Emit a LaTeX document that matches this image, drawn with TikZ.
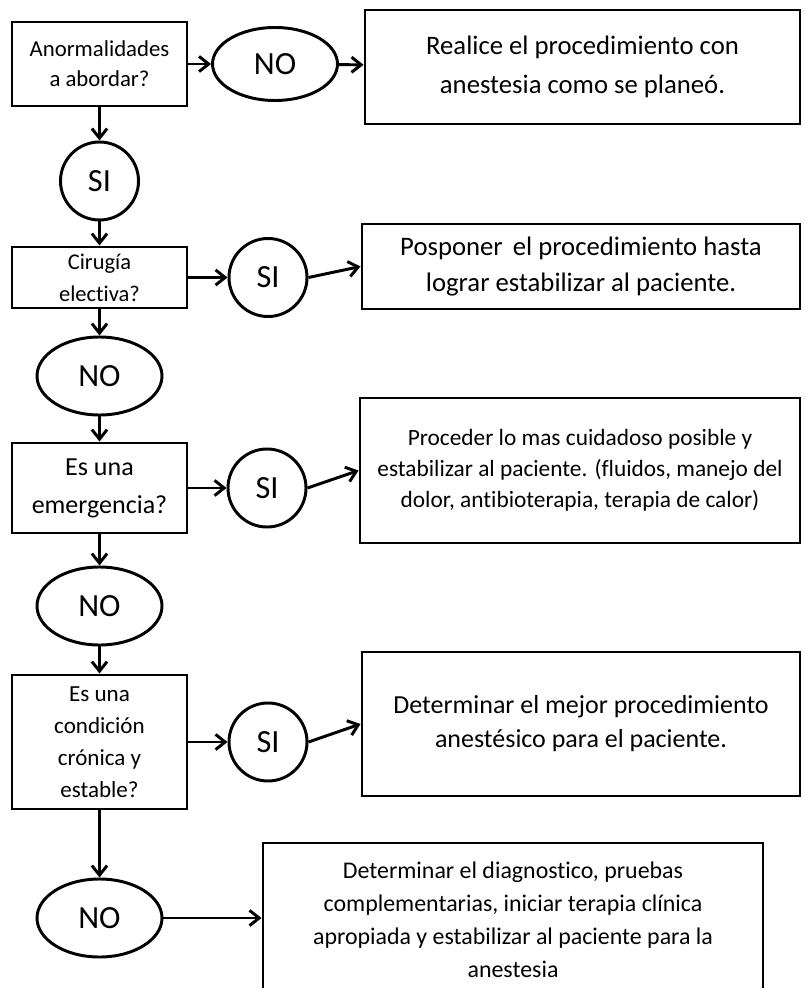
\documentclass[tikz,border=0pt]{standalone}
\usepackage{fontspec}
\setmainfont{Carlito}[Ligatures = NoCommon]
\usetikzlibrary{shapes.geometric,arrows.meta}

\tikzset{
    caja/.style = {draw, rectangle, line width = 2.1pt, inner sep = 0pt, align = center},
    globo/.style = {draw, ellipse, line width = 2.1pt, inner sep = 0pt, minimum width = 31.25mm, minimum height = 19.5mm, font = \fontsize{23}{27}\selectfont},
    bola/.style = {draw, circle, line width = 2.1pt, inner sep = 0pt, minimum size = 19.5mm, font = \fontsize{23}{27}\selectfont},
    flecha/.style = {line width = 2.1pt, -{Straight Barb[length = 2.4mm, width = 3.8mm]}}
}

\begin{document}
\begin{tikzpicture}[x = 0.25mm, y = -0.25mm]
        \useasboundingbox (0,0) rectangle (804,988);

        % columna de preguntas
        \node (anorm) at (99.5, 64) [caja, minimum width = 43.75mm, minimum height = 21mm, font = \fontsize{16.2}{21.3}\selectfont] {Anormalidades\\a abordar?};
        \node (cirugia) at (99.5, 277.5) [caja, minimum width = 43.75mm, minimum height = 15.25mm, font = \fontsize{16}{22.8}\selectfont] {Cirugía\\electiva?};
        \node (emerg) at (99.5, 488) [caja, minimum width = 43.75mm, minimum height = 22.5mm, font = \fontsize{18.5}{27}\selectfont] {Es una\\emergencia?};
        \node (cronica) at (99.5, 742) [caja, minimum width = 43.75mm, minimum height = 33.5mm, font = \fontsize{16.4}{22.8}\selectfont] {Es una\\condición\\crónica y\\estable?};

        % respuestas
        \node (no1) at (275, 64) [globo, minimum height = 18.25mm] {NO};
        \node (si1) at (99.5, 181) [bola] {SI};
        \node (si2) at (268, 277.5) [bola] {SI};
        \node (no2) at (99.5, 376) [globo] {NO};
        \node (si3) at (267, 488) [bola] {SI};
        \node (no3) at (99.5, 606) [globo] {NO};
        \node (si4) at (268, 742) [bola] {SI};
        \node (no4) at (99.5, 918) [globo] {NO};

        % acciones
        \node (r1) at (582.5, 67) [caja, minimum width = 108.75mm, minimum height = 28.5mm, font = \fontsize{19}{27.7}\selectfont] {Realice el procedimiento con\\anestesia como se planeó.};
        \node (r2) at (581, 266.5) [caja, minimum width = 109.5mm, minimum height = 21.25mm, font = \fontsize{19}{25.6}\selectfont] {Posponer\hspace{0.15em} el procedimiento hasta\\lograr estabilizar al paciente.};
        \node (r3) at (580, 470.5) [caja, minimum width = 110mm, minimum height = 36.25mm, font = \fontsize{16.6}{22}\selectfont] {Proceder lo mas cuidadoso posible y\\estabilizar al paciente. (fluidos, manejo del\\dolor, antibioterapia, terapia de calor)};
        \node (r4) at (581, 724) [caja, minimum width = 109.5mm, minimum height = 36mm, font = \fontsize{18.5}{24.2}\selectfont] {Determinar el mejor procedimiento\\anestésico para el paciente.};
        \node (r5) at (513, 920) [caja, minimum width = 125mm, minimum height = 38.5mm, font = \fontsize{17}{23.5}\selectfont] {Determinar el diagnostico, pruebas\\complementarias, iniciar terapia clínica\\apropiada y estabilizar al paciente para la\\anestesia};

        \draw [flecha] (anorm) -- (no1);
        \draw [flecha] (no1) -- (r1);
        \draw [flecha] (anorm) -- (si1);
        \draw [flecha] (si1) -- (cirugia);
        \draw [flecha] (cirugia) -- (si2);
        \draw [flecha] (si2.east) -- (r2.west);
        \draw [flecha] (cirugia) -- (no2);
        \draw [flecha] (no2) -- (emerg);
        \draw [flecha] (emerg) -- (si3);
        \draw [flecha] (si3.east) -- (r3.west);
        \draw [flecha] (emerg) -- (no3);
        \draw [flecha] (no3) -- (cronica);
        \draw [flecha] (cronica) -- (si4);
        \draw [flecha] (si4.east) -- (r4.west);
        \draw [flecha] (cronica) -- (no4);
        \draw [flecha] (no4.east) -- (no4.east -| r5.west);
    \end{tikzpicture}
\end{document}
